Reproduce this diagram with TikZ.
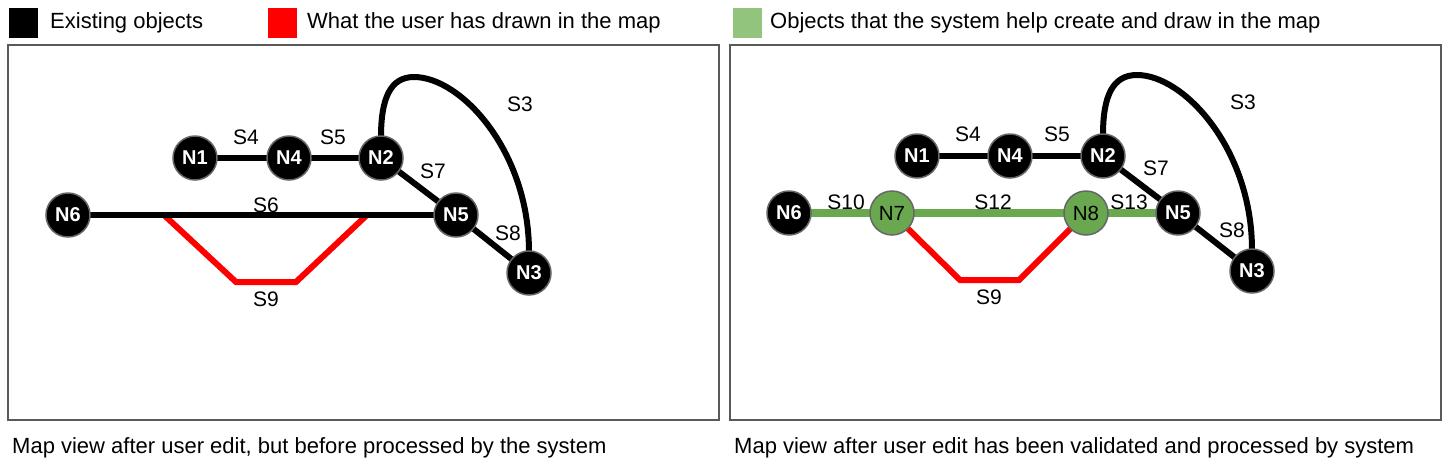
\documentclass[tikz,border=0pt]{standalone}
\usepackage{fontspec}
\setmainfont{Liberation Sans}
\definecolor{border}{HTML}{595959}
\definecolor{nodeline}{HTML}{666666}
\definecolor{legred}{HTML}{FF0000}
\definecolor{leggreen}{HTML}{93C47D}
\definecolor{ngreen}{HTML}{6AA84F}
\begin{document}
\begin{tikzpicture}[x=1pt,y=-1pt,
  panel/.style={draw=border,line width=1.3pt},
  legsq/.style={minimum width=29pt,minimum height=30pt,inner sep=0pt,draw=none},
  legtxt/.style={anchor=west,inner sep=0pt,font=\fontsize{22}{26}\selectfont},
  captxt/.style={anchor=west,inner sep=0pt,font=\fontsize{22}{26}\selectfont},
  bnode/.style={circle,fill=black,draw=nodeline,line width=1.5pt,minimum size=44pt,inner sep=0pt,text=white,font=\fontsize{20}{24}\selectfont\bfseries},
  gnode/.style={circle,fill=ngreen,draw=nodeline,line width=1.5pt,minimum size=44pt,inner sep=0pt,text=black,font=\fontsize{20.5}{24}\selectfont},
  bedge/.style={line width=6pt,black},
  redge/.style={line width=6pt,legred,line join=miter},
  gedge/.style={line width=8pt,ngreen},
  lab/.style={inner sep=0pt,font=\fontsize{21}{24}\selectfont}
]
\useasboundingbox (0,0) rectangle (1452,472);
\fill[white] (0,0) rectangle (1452,472);
% legend
\node[legsq,fill=black] (lb) at (23,23) {};
\node[legtxt] (lbt) at (50,23) {Existing objects};
\node[legsq,fill=legred] (lr) at (282,23) {};
\node[legtxt] (lrt) at (307,23) {What the user has drawn in the map};
\node[legsq,fill=leggreen] (lg) at (747,23) {};
\node[legtxt] (lgt) at (770,23) {Objects that the system help create and draw in the map};
% panels
\draw[panel] (8,45) rectangle (719,420);
\draw[panel] (730,45) rectangle (1441,420);
\node[captxt] (c1) at (12,448) {Map view after user edit, but before processed by the system};
\node[captxt] (c2) at (734,448) {Map view after user edit has been validated and processed by system};

% ---------- left panel ----------
\coordinate (aN1) at (195,158);
\coordinate (aN4) at (289,158);
\coordinate (aN2) at (381,158);
\coordinate (aN6) at (68,215);
\coordinate (aN5) at (456,215);
\coordinate (aN3) at (529,273);
\coordinate (ar1) at (164,215);
\coordinate (ar2) at (236,282);
\coordinate (ar3) at (296,282);
\coordinate (ar4) at (367,215);
\coordinate (atop) at (414,77);
\draw[redge] (ar1) -- (ar2) -- (ar3) -- (ar4);
\draw[bedge] (aN6) -- (aN5);
\draw[bedge] (aN1) -- (aN4);
\draw[bedge] (aN4) -- (aN2);
\draw[bedge] (aN2) -- (aN5);
\draw[bedge] (aN5) -- (aN3);
\draw[bedge] (381,137) .. controls (381,99) and (390,77) .. (atop) .. controls (461,77) and (529,151) .. (529,252);
\node[bnode] (nA1) at (aN1) {N1};
\node[bnode] (nA4) at (aN4) {N4};
\node[bnode] (nA2) at (aN2) {N2};
\node[bnode] (nA6) at (aN6) {N6};
\node[bnode] (nA5) at (aN5) {N5};
\node[bnode] (nA3) at (aN3) {N3};
\node[lab] (aS4) at (246,137) {S4};
\node[lab] (aS5) at (333,137) {S5};
\node[lab] (aS3) at (520,104) {S3};
\node[lab] (aS7) at (433,171) {S7};
\node[lab] (aS6) at (266,205) {S6};
\node[lab] (aS8) at (508,233) {S8};
\node[lab] (aS9) at (266,299) {S9};

% ---------- right panel ----------
\coordinate (bN1) at (917,156);
\coordinate (bN4) at (1010,156);
\coordinate (bN2) at (1103,156);
\coordinate (bN6) at (789,213);
\coordinate (bN7) at (892,213);
\coordinate (bN8) at (1086,213);
\coordinate (bN5) at (1178,213);
\coordinate (bN3) at (1252,271);
\coordinate (br2) at (960,280);
\coordinate (br3) at (1019,280);
\coordinate (btop) at (1137,75);
\draw[redge] (bN7) -- (br2) -- (br3) -- (bN8);
\draw[gedge] (bN6) -- (bN7);
\draw[gedge] (bN7) -- (bN8);
\draw[gedge] (bN8) -- (bN5);
\draw[bedge] (bN1) -- (bN4);
\draw[bedge] (bN4) -- (bN2);
\draw[bedge] (bN2) -- (bN5);
\draw[bedge] (bN5) -- (bN3);
\draw[bedge] (1103,135) .. controls (1103,97) and (1112,75) .. (btop) .. controls (1184,75) and (1252,149) .. (1252,250);
\node[bnode] (nB1) at (bN1) {N1};
\node[bnode] (nB4) at (bN4) {N4};
\node[bnode] (nB2) at (bN2) {N2};
\node[bnode] (nB6) at (bN6) {N6};
\node[gnode] (nB7) at (bN7) {N7};
\node[gnode] (nB8) at (bN8) {N8};
\node[bnode] (nB5) at (bN5) {N5};
\node[bnode] (nB3) at (bN3) {N3};
\node[lab] (bS4) at (968,134) {S4};
\node[lab] (bS5) at (1057,134) {S5};
\node[lab] (bS3) at (1243,102) {S3};
\node[lab] (bS7) at (1156,168) {S7};
\node[lab] (bS8) at (1232,230) {S8};
\node[lab] (bS10) at (846,202) {S10};
\node[lab] (bS12) at (993,202) {S12};
\node[lab] (bS13) at (1129,202) {S13};
\node[lab] (bS9) at (989,297) {S9};
\end{tikzpicture}
\end{document}
